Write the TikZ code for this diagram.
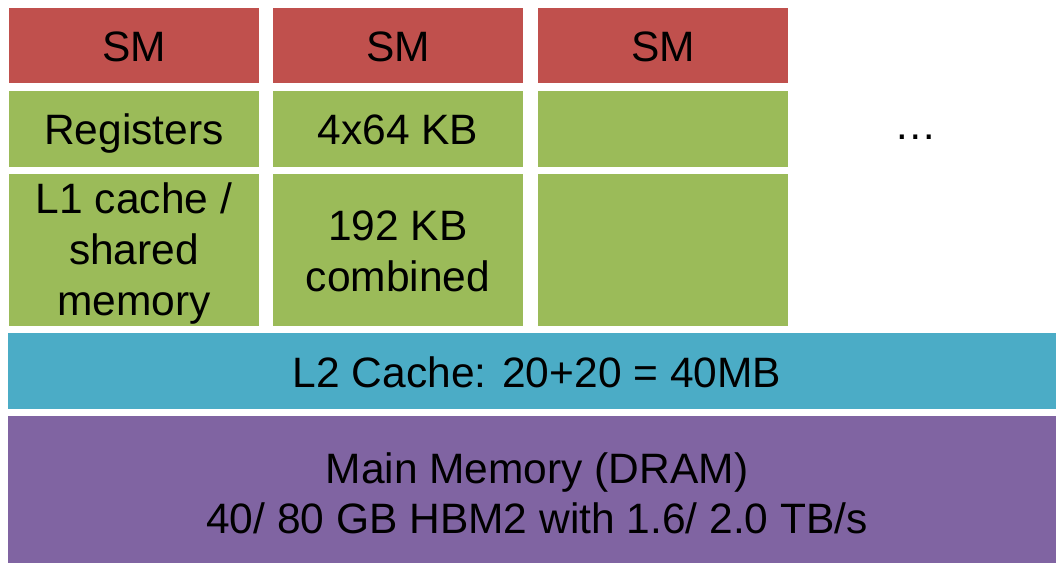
\documentclass[tikz,border=0pt]{standalone}
\usepackage{fontspec}
\setmainfont{Liberation Sans}
\definecolor{smred}{HTML}{C0504D}
\definecolor{memgreen}{HTML}{9BBB59}
\definecolor{l2blue}{HTML}{4BACC6}
\definecolor{dramviolet}{HTML}{8064A2}
\tikzset{
  block/.style={draw=none, inner sep=0pt, outer sep=0pt, align=center,
    font=\fontsize{42.5}{51}\selectfont, text=black,
    text height=32.4pt, text depth=0pt},
  smbox/.style={block, fill=smred, minimum width=250pt, minimum height=75pt},
  regbox/.style={block, fill=memgreen, minimum width=250pt, minimum height=75.5pt},
  l1box/.style={block, fill=memgreen, minimum width=250pt, minimum height=152pt},
  widebox/.style={block, minimum width=1058pt},
}
\begin{document}
\begin{tikzpicture}[x=1pt, y=-1pt]
  \useasboundingbox (0,0) rectangle (1056,563);
  % streaming multiprocessors
  \node[smbox] (sm1) at (134,45.5) {SM};
  \node[smbox] (sm2) at (398,45.5) {SM};
  \node[smbox] (sm3) at (663,45.5) {SM};
  % register files
  \node[regbox] (reg1) at (134,128.75) {Registers};
  \node[regbox] (reg2) at (398,128.75) {4x64 KB};
  \node[regbox] (reg3) at (663,128.75) {};
  % L1 cache / shared memory
  \node[l1box, text height=130pt] (l1a) at (134,250) {L1 cache /\\shared\\memory};
  \node[l1box, text height=82pt] (l1b) at (398,250) {192 KB\\combined};
  \node[l1box] (l1c) at (663,250) {};
  \node[block] (more) at (916,123.3) {\ldots};
  % L2 cache
  \node[widebox, fill=l2blue, minimum height=76pt] (l2) at (537,371) {L2 Cache: 20+20 = 40MB};
  % device memory
  \node[widebox, fill=dramviolet, minimum height=147pt, text height=87.6pt,
        font=\fontsize{42.5}{50}\selectfont] (dram) at (537,489.5)
        {Main Memory (DRAM)\\40/ 80 GB HBM2 with 1.6/ 2.0 TB/s};
\end{tikzpicture}
\end{document}
